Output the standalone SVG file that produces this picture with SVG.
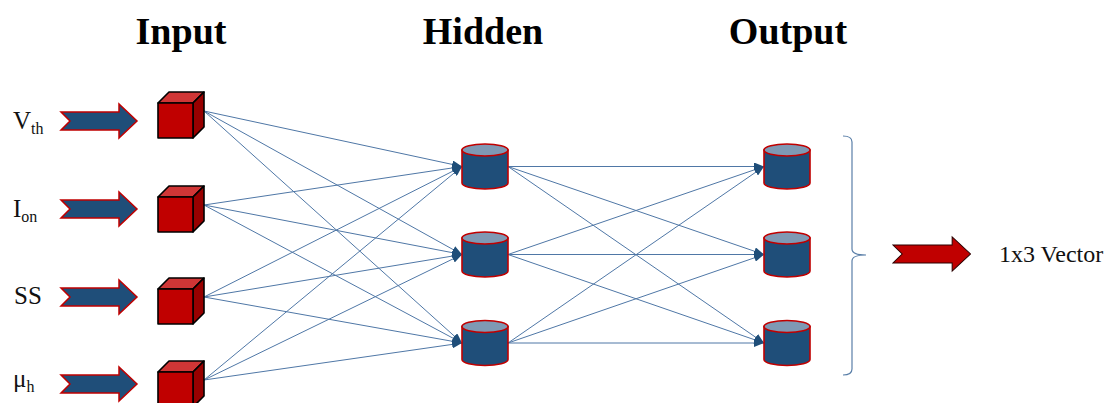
<svg xmlns="http://www.w3.org/2000/svg" width="1108" height="403" viewBox="0 0 1108 403">
  <defs>
    <style>
      .title { font-family: "Liberation Serif", "Times New Roman", serif; font-weight: bold; font-size: 38px; fill: #000; text-anchor: middle; }
      .lbl { font-family: "Liberation Serif", "Times New Roman", serif; font-size: 25px; fill: #111; }
      .sub { font-size: 16px; }
      .edge { stroke: #4f77a6; stroke-width: 1; fill: none; marker-end: url(#head); }
      .in-arrow { fill: #1f4e79; stroke: #c00000; stroke-width: 1.5; stroke-linejoin: miter; }
      .out-arrow { fill: #c00000; stroke: #2a0000; stroke-width: 1; }
      .cube-front { fill: #c00000; stroke: #000; stroke-width: 1.6; stroke-linejoin: round; }
      .cube-top { fill: #d03636; stroke: #000; stroke-width: 1.6; stroke-linejoin: round; }
      .cube-side { fill: #980000; stroke: #000; stroke-width: 1.6; stroke-linejoin: round; }
      .cyl-body { fill: #1f4e79; stroke: #c00000; stroke-width: 1.6; }
      .cyl-top { fill: #7f99b4; stroke: #c00000; stroke-width: 1.6; }
      .brace { fill: none; stroke: #5a7fa8; stroke-width: 1.2; }
    </style>
    <marker id="head" viewBox="0 0 10 8" refX="10" refY="4" markerWidth="10" markerHeight="8" markerUnits="userSpaceOnUse" orient="auto">
      <path d="M0,0 L10,4 L0,8 Z" fill="#1f4e79"/>
    </marker>
    <!-- cube with 35px front face and 11px depth, origin at front top-left -->
    <g id="cube">
      <polygon class="cube-top" points="0,0 11,-11 46,-11 35,0"/>
      <polygon class="cube-side" points="35,0 46,-11 46,24 35,35"/>
      <rect class="cube-front" x="0" y="0" width="35" height="35"/>
    </g>
    <!-- cylinder 46 wide, 45 tall, origin at top-left of bounding box -->
    <g id="cyl">
      <path class="cyl-body" d="M0,6 L0,39 A23,6 0 0 0 46,39 L46,6 Z"/>
      <ellipse class="cyl-top" cx="23" cy="6" rx="23" ry="6"/>
    </g>
    <!-- notched block arrow, 76 long, centred on y=0 -->
    <polygon id="blockArrow" points="0,-9 58,-9 58,-17 76,0 58,17 58,9 0,9 9,0"/>
  </defs>

  <!-- column headings -->
  <text class="title" x="181" y="44">Input</text>
  <text class="title" x="483" y="44">Hidden</text>
  <text class="title" x="788" y="44">Output</text>

  <!-- input labels -->
  <text class="lbl" x="13" y="129">V<tspan class="sub" dy="5">th</tspan></text>
  <text class="lbl" x="13" y="217">I<tspan class="sub" dy="5">on</tspan></text>
  <text class="lbl" x="14" y="304">SS</text>
  <text class="lbl" x="13" y="387">μ<tspan class="sub" dy="5">h</tspan></text>

  <!-- input arrows -->
  <g id="input-arrows">
    <use href="#blockArrow" class="in-arrow" transform="translate(61,121)"/>
    <use href="#blockArrow" class="in-arrow" transform="translate(61,209)"/>
    <use href="#blockArrow" class="in-arrow" transform="translate(61,297)"/>
    <use href="#blockArrow" class="in-arrow" transform="translate(61,384)"/>
  </g>

  <!-- connectors -->
  <g id="connectors">
    <!-- input layer to hidden layer -->
    <line class="edge" x1="204" y1="111" x2="462" y2="166.5"/>
    <line class="edge" x1="204" y1="111" x2="462" y2="254.5"/>
    <line class="edge" x1="204" y1="111" x2="462" y2="343"/>
    <line class="edge" x1="204" y1="205" x2="462" y2="166.5"/>
    <line class="edge" x1="204" y1="205" x2="462" y2="254.5"/>
    <line class="edge" x1="204" y1="205" x2="462" y2="343"/>
    <line class="edge" x1="204" y1="297" x2="462" y2="166.5"/>
    <line class="edge" x1="204" y1="297" x2="462" y2="254.5"/>
    <line class="edge" x1="204" y1="297" x2="462" y2="343"/>
    <line class="edge" x1="204" y1="380" x2="462" y2="166.5"/>
    <line class="edge" x1="204" y1="380" x2="462" y2="254.5"/>
    <line class="edge" x1="204" y1="380" x2="462" y2="343"/>
    <!-- hidden layer to output layer -->
    <line class="edge" x1="508" y1="166.5" x2="764" y2="166.5"/>
    <line class="edge" x1="508" y1="166.5" x2="764" y2="254.5"/>
    <line class="edge" x1="508" y1="166.5" x2="764" y2="343"/>
    <line class="edge" x1="508" y1="254.5" x2="764" y2="166.5"/>
    <line class="edge" x1="508" y1="254.5" x2="764" y2="254.5"/>
    <line class="edge" x1="508" y1="254.5" x2="764" y2="343"/>
    <line class="edge" x1="508" y1="343" x2="764" y2="166.5"/>
    <line class="edge" x1="508" y1="343" x2="764" y2="254.5"/>
    <line class="edge" x1="508" y1="343" x2="764" y2="343"/>
  </g>

  <!-- input nodes -->
  <g id="in1"><use href="#cube" transform="translate(158,103)"/></g>
  <g id="in2"><use href="#cube" transform="translate(158,197)"/></g>
  <g id="in3"><use href="#cube" transform="translate(158,289)"/></g>
  <g id="in4"><use href="#cube" transform="translate(158,372)"/></g>

  <!-- hidden nodes -->
  <g id="h1"><use href="#cyl" transform="translate(462,144)"/></g>
  <g id="h2"><use href="#cyl" transform="translate(462,232)"/></g>
  <g id="h3"><use href="#cyl" transform="translate(462,320.5)"/></g>

  <!-- output nodes -->
  <g id="o1"><use href="#cyl" transform="translate(764,144)"/></g>
  <g id="o2"><use href="#cyl" transform="translate(764,232)"/></g>
  <g id="o3"><use href="#cyl" transform="translate(764,320.5)"/></g>

  <!-- right brace grouping the outputs -->
  <path class="brace" d="M843,136 Q852,136 852,142 L852,249 Q852,255 866,255 Q852,255 852,261 L852,369 Q852,375 843,375"/>

  <!-- result arrow and label -->
  <g id="result">
    <use href="#blockArrow" class="out-arrow" transform="translate(893,254) scale(1.02,1)"/>
    <text class="lbl" x="999" y="262" style="font-size:24px">1x3 Vector</text>
  </g>
</svg>
